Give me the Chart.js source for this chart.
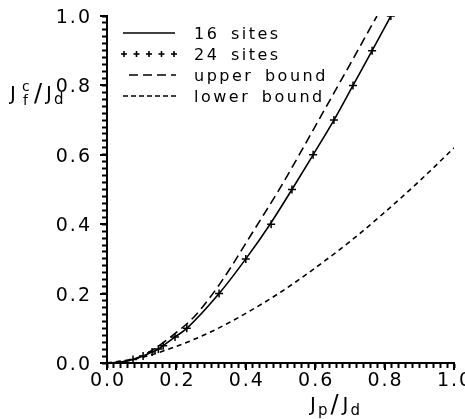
<!DOCTYPE html>
<html>
<head>
<meta charset="utf-8">
<script src="https://cdn.jsdelivr.net/npm/chart.js@4.4.1/dist/chart.umd.min.js"></script>
<style>
  html, body { margin: 0; padding: 0; background: #fff; }
  #wrap { width: 465px; height: 419px; position: relative; }
</style>
</head>
<body>
<div id="wrap"><canvas id="chart"></canvas></div>
<script>
// values
const sites24X = [0.075, 0.104, 0.13, 0.148, 0.162, 0.196, 0.23, 0.323, 0.40, 0.473, 0.533, 0.594, 0.654, 0.709, 0.764, 0.818];
const sites24Y = [0.01, 0.02, 0.032, 0.04, 0.05, 0.075, 0.10, 0.20, 0.30, 0.40, 0.50, 0.60, 0.70, 0.80, 0.90, 1.0];

const sites16X = [0, 0.04, 0.075, 0.104, 0.13, 0.148, 0.162, 0.196, 0.23, 0.323, 0.40, 0.47, 0.533, 0.594, 0.654, 0.709, 0.764, 0.818];
const sites16Y = [0, 0.003, 0.01, 0.02, 0.032, 0.04, 0.05, 0.075, 0.10, 0.20, 0.30, 0.40, 0.50, 0.60, 0.70, 0.80, 0.90, 1.0];

const upperX = [0, 0.05, 0.1, 0.15, 0.2, 0.25, 0.3, 0.35, 0.4, 0.45, 0.5, 0.55, 0.6, 0.65, 0.7, 0.75, 0.778];
const upperY = [0, 0.004, 0.02, 0.05, 0.088, 0.132, 0.193, 0.265, 0.345, 0.425, 0.506, 0.593, 0.682, 0.771, 0.86, 0.95, 1.0];

const lowerX = [0, 0.1, 0.2, 0.3, 0.4, 0.5, 0.6, 0.7, 0.8, 0.9, 1.0];
const lowerY = [0, 0.016, 0.048, 0.09, 0.143, 0.204, 0.274, 0.35, 0.434, 0.524, 0.62];

const tickLabels = ['0.0', '0.2', '0.4', '0.6', '0.8', '1.0'];
const legendLabels = ['16 sites', '24 sites', 'upper bound', 'lower bound'];

function pts(xs, ys) {
    return xs.map((x, i) => ({ x: x, y: ys[i] }));
}

const FONT = "'DejaVu Sans', sans-serif";

// draw a sequence of text pieces: [text, size, dy, extra gap after]
function drawPieces(ctx, x, y, pieces) {
    pieces.forEach(p => {
        ctx.font = p[1] + 'px ' + FONT;
        ctx.fillText(p[0], x, y + p[2]);
        x += ctx.measureText(p[0]).width + (p[3] || 0);
    });
    return x;
}

function seg(ctx, ax, ay, bx, by) {
    ctx.beginPath();
    ctx.moveTo(ax, ay);
    ctx.lineTo(bx, by);
    ctx.stroke();
}

const framePlugin = {
    id: 'axesFrame',
    afterDraw(chart) {
        const ctx = chart.ctx;
        const xs = chart.scales.x, ys = chart.scales.y;
        const x0 = Math.round(xs.getPixelForValue(0));
        const y0 = Math.round(ys.getPixelForValue(0));
        ctx.save();
        ctx.setLineDash([]);
        ctx.strokeStyle = '#000';
        ctx.fillStyle = '#000';

        // longer marks at the labelled ticks
        tickLabels.forEach((t, i) => {
            const px = Math.round(xs.getPixelForValue(i * 0.2));
            const py = Math.round(ys.getPixelForValue(i * 0.2));
            ctx.fillRect(px - 1, y0, 2, 7);
            ctx.fillRect(x0 - 7, py - 1, 7, 2);
        });

        // tick labels
        ctx.font = '19px ' + FONT;
        ctx.letterSpacing = '2px';
        tickLabels.forEach((t, i) => {
            const v = i * 0.2;
            ctx.textAlign = 'center';
            ctx.fillText(t, xs.getPixelForValue(v) + 1, y0 + 23);
            ctx.textAlign = 'right';
            ctx.fillText(t, x0 - 15, ys.getPixelForValue(v) + 7);
        });

        // axis titles
        ctx.textAlign = 'left';
        ctx.letterSpacing = '0px';
        drawPieces(ctx, 310, 411, [['J', 20, 0, 2], ['p', 15, 4, 3], ['/', 24, 1, 4], ['J', 20, 0, 2], ['d', 15, 4]]);
        drawPieces(ctx, 10, 100, [['J', 20, 0]]);
        ctx.font = '14px ' + FONT;
        ctx.fillText('c', 22, 91);
        ctx.fillText('f', 23, 105);
        drawPieces(ctx, 34, 100, [['/', 24, 1, 4], ['J', 20, 0, 2], ['d', 15, 4]]);

        // legend
        const rows = [33, 54, 75, 96];
        ctx.lineWidth = 1.6;
        seg(ctx, 123, rows[0], 175, rows[0]);
        for (let k = 0; k < 5; k++) {
            const cx = 124 + k * 12.5;
            seg(ctx, cx - 3, rows[1], cx + 3, rows[1]);
            seg(ctx, cx, rows[1] - 3, cx, rows[1] + 3);
        }
        ctx.setLineDash([9, 5]);
        seg(ctx, 129, rows[2], 176, rows[2]);
        ctx.setLineDash([5, 3]);
        seg(ctx, 123, rows[3], 176, rows[3]);
        ctx.setLineDash([]);

        ctx.font = '16px ' + FONT;
        ctx.letterSpacing = '2.5px';
        ctx.wordSpacing = '4px';
        legendLabels.forEach((t, i) => {
            ctx.fillText(t, 194, rows[i] + 6);
        });
        ctx.restore();
    }
};

// outward minor ticks every 0.02 drawn by the scale itself
function axisOpts(size) {
    return {
        type: 'linear',
        min: 0,
        max: 1,
        afterFit(scale) {
            if (scale.isHorizontal()) scale.height = size; else scale.width = size;
        },
        ticks: { stepSize: 0.02, display: false, autoSkip: false },
        grid: {
            drawOnChartArea: false,
            drawTicks: true,
            tickLength: 5,
            tickWidth: 2,
            tickColor: '#000',
            color: '#000'
        },
        border: { display: true, color: '#000', width: 2 }
    };
}

new Chart(document.getElementById('chart'), {
    type: 'line',
    data: {
        datasets: [
            {
                label: '16 sites',
                data: pts(sites16X, sites16Y),
                borderColor: '#000',
                borderWidth: 1.6,
                pointRadius: 0,
                cubicInterpolationMode: 'monotone',
                fill: false
            },
            {
                label: '24 sites',
                data: pts(sites24X, sites24Y),
                showLine: false,
                pointStyle: 'cross',
                pointRadius: 4,
                pointBorderWidth: 1.5,
                borderColor: '#000',
                backgroundColor: '#000'
            },
            {
                label: 'upper bound',
                data: pts(upperX, upperY),
                borderColor: '#000',
                borderWidth: 1.6,
                borderDash: [9, 5],
                pointRadius: 0,
                cubicInterpolationMode: 'monotone',
                fill: false
            },
            {
                label: 'lower bound',
                data: pts(lowerX, lowerY),
                borderColor: '#000',
                borderWidth: 1.6,
                borderDash: [5, 4],
                pointRadius: 0,
                cubicInterpolationMode: 'monotone',
                fill: false
            }
        ]
    },
    options: {
        responsive: true,
        maintainAspectRatio: false,
        animation: false,
        layout: { padding: { left: 0, right: 11, top: 16, bottom: 0 } },
        plugins: {
            legend: { display: false },
            tooltip: { enabled: false }
        },
        scales: {
            x: axisOpts(56),
            y: axisOpts(107)
        }
    },
    plugins: [framePlugin]
});
</script>
</body>
</html>
